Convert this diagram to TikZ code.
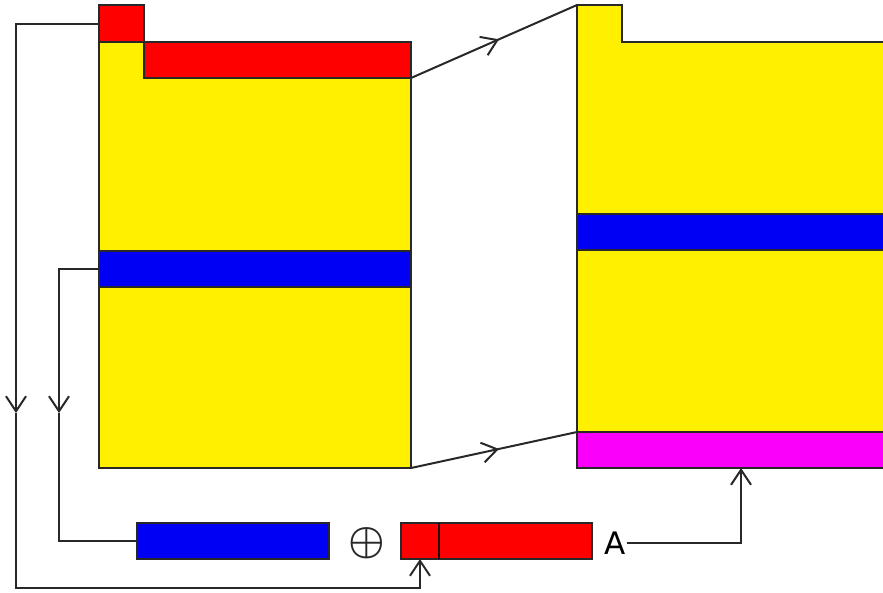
\documentclass[tikz,border=0pt]{standalone}
\usepackage{fontspec}
\setmainfont{DejaVu Sans}
\usetikzlibrary{arrows.meta,decorations.markings}
\definecolor{ylw}{RGB}{255,240,0}
\definecolor{rd}{RGB}{255,0,0}
\definecolor{bl}{RGB}{0,0,245}
\definecolor{mg}{RGB}{250,0,250}
\definecolor{edge}{RGB}{40,40,40}
\begin{document}
\begin{tikzpicture}[x=1pt,y=-1pt,
  box/.style={draw=edge, line width=1.3pt, inner sep=0pt, outer sep=0pt, anchor=north west},
  wire/.style={draw=edge, line width=2pt},
  tip/.style={-{Straight Barb[length=15pt,width=20pt]}},
  midarrow/.style={postaction={decorate}, decoration={markings,
      mark=at position #1 with {\arrow{Straight Barb[length=15pt,width=20pt]}}}},
  lbl/.style={inner sep=0pt, outer sep=2pt, font=\fontsize{31}{36}\selectfont}]
\useasboundingbox (0,0) rectangle (883,592);
% ---------- left stack ----------
\coordinate (L1) at (99,42);
\coordinate (L2) at (144,42);
\coordinate (L3) at (144,78);
\coordinate (L4) at (411,78);
\coordinate (L5) at (411,468);
\coordinate (L6) at (99,468);
\filldraw[fill=ylw, draw=edge, line width=1.3pt] (L1) -- (L2) -- (L3) -- (L4) -- (L5) -- (L6) -- cycle;
\node[box, fill=rd, minimum width=45pt, minimum height=37pt] (redsq) at (99,5) {};
\node[box, fill=rd, minimum width=267pt, minimum height=36pt] (redbar) at (144,42) {};
\node[box, fill=bl, minimum width=312pt, minimum height=36pt] (blueL) at (99,251) {};
% ---------- right stack ----------
\coordinate (R1) at (577,5);
\coordinate (R2) at (622,5);
\coordinate (R3) at (622,42);
\coordinate (R4) at (890,42);
\coordinate (R5) at (890,432);
\coordinate (R6) at (577,432);
\filldraw[fill=ylw, draw=edge, line width=1.3pt] (R1) -- (R2) -- (R3) -- (R4) -- (R5) -- (R6) -- cycle;
\node[box, fill=bl, minimum width=320pt, minimum height=36pt] (blueR) at (577,214) {};
\node[box, fill=mg, minimum width=320pt, minimum height=36pt] (magR) at (577,432) {};
% ---------- bottom row ----------
\node[box, fill=bl, minimum width=192pt, minimum height=36pt] (bluebot) at (137,523) {};
\node[inner sep=0pt, text=edge, scale=4.1, font=\boldmath] (plus) at (367,543) {$\oplus$};
\node[box, fill=rd, minimum width=38pt, minimum height=36pt] (redA) at (401,523) {};
\node[box, fill=rd, minimum width=153pt, minimum height=36pt] (redB) at (439,523) {};
\draw[draw=black!85!red, line width=2.6pt] (redA.north east) -- (redA.south east);
\node[lbl, anchor=west] (A) at (602,543) {A};
% ---------- connectors ----------
\coordinate (d1) at (16,413);
\coordinate (c1) at (16,588);
\coordinate (d2) at (59,413);
\coordinate (m1) at (741,468);
\draw[wire, midarrow=0.53] (L4) -- (R1);
\draw[wire, midarrow=0.53] (L5) -- (R6);
\draw[wire, tip] (redsq.west) -| (d1);
\draw[wire, tip] (d1) -- (c1) -| (redA.south);
\draw[wire, tip] (blueL.west) -| (d2);
\draw[wire] (d2) |- (bluebot.west);
\draw[wire, tip] (A.east) -| (m1);
\end{tikzpicture}
\end{document}
